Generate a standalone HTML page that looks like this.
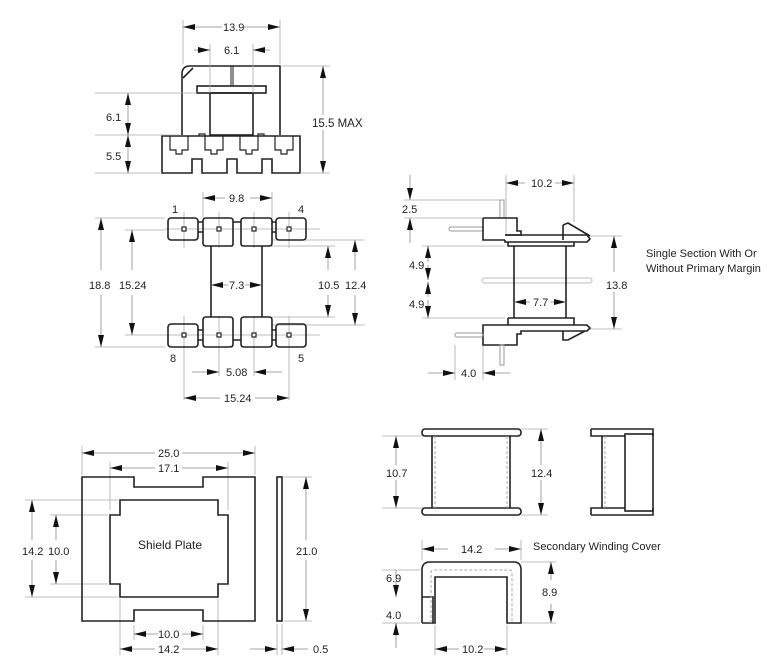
<!DOCTYPE html>
<html><head><meta charset="utf-8"><style>
html,body{margin:0;padding:0;background:#fff}
svg{display:block}
text{font-family:"Liberation Sans",sans-serif;font-size:11px;fill:#222}
.o{fill:none;stroke:#222;stroke-width:1.6}
.e{stroke:#aaa;stroke-width:0.8;fill:none}
.d{stroke:#888;stroke-width:0.8;fill:none}
.ds{stroke:#aaa;stroke-width:1;fill:none;stroke-dasharray:3,2}
</style></head><body>
<svg width="780" height="663" viewBox="0 0 780 663" xmlns="http://www.w3.org/2000/svg">
<defs>
<marker id="a" viewBox="0 0 12 6" refX="12" refY="3" markerWidth="12" markerHeight="6" orient="auto" markerUnits="userSpaceOnUse"><path d="M0,0L12,3L0,6z" fill="#111"/></marker>
</defs>
<g fill="#fff">
<!-- ===== Top view ===== -->
<path class="o" d="M182,135 V74 Q182,66 190,66 H280 V135"/>
<path class="o" d="M183,78 L193,68"/>
<rect class="o" x="197" y="86" width="69" height="7"/>
<rect class="o" x="210" y="93" width="43" height="42"/>
<path class="o" d="M231,66V86 M233,66V86" style="stroke-width:1"/>
<path class="o" d="M162,136 H300 V173 H272 V159 H262 V173 H237 V159 H227 V173 H202 V159 H192 V173 H162 Z"/>
<path class="o" style="stroke-width:1.2" d="M170,136v14h6v4h6v-4h6v-14 M199,136v-2h6v2 M205,136v14h6v4h6v-4h6v-14 M240,136v14h6v4h6v-4h6v-14 M258,136v-2h6v2 M275,136v14h6v4h6v-4h6v-14"/>
<path class="e" d="M183,20V64 M280,20V64 M210,44V93 M253,44V93 M282,66H330 M300,173H330 M95,93H197 M95,135H180 M95,173H160"/>
<line class="d" x1="232" y1="27" x2="183" y2="27" marker-end="url(#a)"/>
<line class="d" x1="232" y1="27" x2="280" y2="27" marker-end="url(#a)"/>
<rect x="222" y="20" width="22" height="13" stroke="none"/>
<text x="223" y="31">13.9</text>
<line class="d" x1="194" y1="50" x2="210" y2="50" marker-end="url(#a)"/>
<line class="d" x1="270" y1="50" x2="253" y2="50" marker-end="url(#a)"/>
<text x="224" y="54">6.1</text>
<line class="d" x1="323" y1="115" x2="323" y2="66" marker-end="url(#a)"/>
<line class="d" x1="323" y1="130" x2="323" y2="173" marker-end="url(#a)"/>
<text x="312" y="127" style="font-size:11.5px">15.5 MAX</text>
<line class="d" x1="128" y1="110" x2="128" y2="93" marker-end="url(#a)"/>
<line class="d" x1="128" y1="110" x2="128" y2="135" marker-end="url(#a)"/>
<line class="d" x1="128" y1="150" x2="128" y2="135" marker-end="url(#a)"/>
<line class="d" x1="128" y1="150" x2="128" y2="173" marker-end="url(#a)"/>
<text x="106" y="121">6.1</text>
<text x="106" y="160">5.5</text>

<!-- ===== Pin view ===== -->
<path class="e" d="M184,212V248 M219,212V248 M254,212V248 M289,212V248 M184,316V400 M219,316V376 M254,316V376 M289,316V400 M165,229H320 M165,335H320 M95,218H165 M125,230H165 M125,335H165 M95,347H165 M203,192V218 M272,192V218 M262,246H335 M272,240H365 M262,317H335 M272,325H365"/>
<rect class="o" x="168" y="218" width="30" height="22" rx="3"/>
<rect class="o" x="276" y="218" width="30" height="22" rx="3"/>
<path class="o" d="M198,222H203 M233,222H241 M272,222H276 M198,232H203 M272,232H276"/>
<path class="o" d="M203,221Q203,218 206,218H230Q233,218 233,221V244Q233,246 231,246H206Q203,246 203,243Z"/>
<path class="o" d="M241,221Q241,218 244,218H269Q272,218 272,221V243Q272,246 269,246H244Q241,246 241,244Z"/>
<rect class="o" x="168" y="324" width="30" height="23" rx="3"/>
<rect class="o" x="276" y="324" width="30" height="23" rx="3"/>
<path class="o" d="M203,320Q203,317 206,317H230Q233,317 233,320V344Q233,347 230,347H206Q203,347 203,344Z"/>
<path class="o" d="M241,320Q241,317 244,317H269Q272,317 272,320V344Q272,347 269,347H244Q241,347 241,344Z"/>
<path class="o" d="M198,340H203 M233,340H241 M272,340H276 M198,330H203 M272,330H276"/>
<path class="o" d="M211,246V317 M262,246V317"/>
<g stroke="#222" stroke-width="1.2"><rect x="182" y="227" width="4" height="4"/><rect x="217" y="227" width="4" height="4"/><rect x="252" y="227" width="4" height="4"/><rect x="287" y="227" width="4" height="4"/><rect x="182" y="333" width="4" height="4"/><rect x="217" y="333" width="4" height="4"/><rect x="252" y="333" width="4" height="4"/><rect x="287" y="333" width="4" height="4"/></g>
<text x="172" y="213">1</text><text x="298" y="213">4</text><text x="170" y="362">8</text><text x="298" y="362">5</text>
<line class="d" x1="225" y1="198" x2="203" y2="198" marker-end="url(#a)"/>
<line class="d" x1="250" y1="198" x2="272" y2="198" marker-end="url(#a)"/>
<text x="229" y="202">9.8</text>
<line class="d" x1="228" y1="285" x2="211" y2="285" marker-end="url(#a)"/>
<line class="d" x1="245" y1="285" x2="262" y2="285" marker-end="url(#a)"/>
<text x="229" y="289">7.3</text>
<line class="d" x1="101" y1="270" x2="101" y2="218" marker-end="url(#a)"/>
<line class="d" x1="101" y1="295" x2="101" y2="347" marker-end="url(#a)"/>
<text x="89" y="289">18.8</text>
<line class="d" x1="132" y1="270" x2="132" y2="230" marker-end="url(#a)"/>
<line class="d" x1="132" y1="295" x2="132" y2="335" marker-end="url(#a)"/>
<text x="119" y="289">15.24</text>
<line class="d" x1="328" y1="270" x2="328" y2="246" marker-end="url(#a)"/>
<line class="d" x1="328" y1="295" x2="328" y2="317" marker-end="url(#a)"/>
<text x="318" y="289">10.5</text>
<line class="d" x1="355" y1="270" x2="355" y2="240" marker-end="url(#a)"/>
<line class="d" x1="355" y1="295" x2="355" y2="325" marker-end="url(#a)"/>
<text x="345" y="289">12.4</text>
<line class="d" x1="192" y1="372" x2="219" y2="372" marker-end="url(#a)"/>
<line class="d" x1="282" y1="372" x2="254" y2="372" marker-end="url(#a)"/>
<text x="226" y="376">5.08</text>
<line class="d" x1="220" y1="398" x2="184" y2="398" marker-end="url(#a)"/>
<line class="d" x1="255" y1="398" x2="289" y2="398" marker-end="url(#a)"/>
<text x="224" y="402">15.24</text>

<!-- ===== Side view ===== -->
<path class="e" d="M506,175V235 M574,175V222 M404,200H500 M404,218H483 M422,246H505 M422,318H505 M590,236H622 M590,329H622 M455,345V380 M483,345V380"/>
<rect class="o" x="449" y="227" width="34" height="4" rx="2" style="stroke-width:1;stroke:#999"/>
<rect class="o" x="500" y="200" width="4" height="18" style="stroke-width:1;stroke:#999"/>
<path class="o" d="M483,218H517V231H521V235H505M483,218V240H505"/>
<path class="o" d="M505,235H587L590,239L587,242H505V240 M508,242V246H574V242"/>
<path class="o" d="M563,225V240 M563,225L568,223L590,236"/>
<rect x="482" y="278" width="110" height="5" rx="2.5" stroke="#bbb" stroke-width="1"/>
<path class="o" d="M514,246V318 M566,246V318"/>
<path class="o" d="M508,318V325 M508,318H574V325"/>
<path class="o" d="M483,325H587L590,328L587,331H521V334H517V345H483Z"/>
<path class="o" d="M563,331V340L568,340L585,331"/>
<rect class="o" x="455" y="333" width="28" height="4" rx="2" style="stroke-width:1;stroke:#999"/>
<rect class="o" x="500" y="345" width="4" height="20" style="stroke-width:1;stroke:#999"/>
<line class="d" x1="525" y1="183" x2="506" y2="183" marker-end="url(#a)"/>
<line class="d" x1="555" y1="183" x2="574" y2="183" marker-end="url(#a)"/>
<text x="531" y="187">10.2</text>
<line class="d" x1="410" y1="175" x2="410" y2="200" marker-end="url(#a)"/>
<line class="d" x1="410" y1="243" x2="410" y2="218" marker-end="url(#a)"/>
<text x="402" y="213">2.5</text>
<line class="d" x1="428" y1="262" x2="428" y2="246" marker-end="url(#a)"/>
<line class="d" x1="428" y1="265" x2="428" y2="280" marker-end="url(#a)"/>
<line class="d" x1="428" y1="297" x2="428" y2="282" marker-end="url(#a)"/>
<line class="d" x1="428" y1="300" x2="428" y2="318" marker-end="url(#a)"/>
<text x="409" y="269">4.9</text>
<text x="409" y="308">4.9</text>
<line class="d" x1="614" y1="272" x2="614" y2="236" marker-end="url(#a)"/>
<line class="d" x1="614" y1="292" x2="614" y2="329" marker-end="url(#a)"/>
<text x="606" y="289">13.8</text>
<line class="d" x1="530" y1="302" x2="514" y2="302" marker-end="url(#a)"/>
<line class="d" x1="550" y1="302" x2="566" y2="302" marker-end="url(#a)"/>
<text x="533" y="306">7.7</text>
<line class="d" x1="428" y1="373" x2="455" y2="373" marker-end="url(#a)"/>
<line class="d" x1="510" y1="373" x2="483" y2="373" marker-end="url(#a)"/>
<text x="461" y="377">4.0</text>
<text x="646" y="257">Single Section With Or</text>
<text x="646" y="272">Without Primary Margin</text>

<!-- ===== Bobbin front ===== -->
<path class="e" d="M382,436H430 M382,508H430 M521,429H548 M521,515H548"/>
<rect class="o" x="422" y="429" width="99" height="7" rx="3"/>
<rect class="o" x="422" y="508" width="99" height="7" rx="3"/>
<path class="o" d="M432,436V508 M510,436V508"/>
<path class="ds" d="M435,436V508 M507,436V508"/>
<line class="d" x1="396" y1="465" x2="396" y2="436" marker-end="url(#a)"/>
<line class="d" x1="396" y1="480" x2="396" y2="508" marker-end="url(#a)"/>
<text x="386" y="477">10.7</text>
<line class="d" x1="541" y1="465" x2="541" y2="429" marker-end="url(#a)"/>
<line class="d" x1="541" y1="480" x2="541" y2="515" marker-end="url(#a)"/>
<text x="531" y="477">12.4</text>
<path class="o" d="M591,429H653V436 M591,429V436H625 M591,515H653V508 M591,515V508H625 M602,436V508"/>
<rect class="o" x="625" y="434" width="28" height="77"/>
<path class="ds" d="M605,436V508"/>

<!-- ===== Cover ===== -->
<path class="e" d="M422,540V560 M521,540V560 M521,562H556 M521,623H556 M382,570H420 M382,623H420 M435,625V655 M507,625V655"/>
<path class="o" d="M422,623V570Q422,562 430,562H514Q521,562 521,570V623H507V577H435V623H422 M422,597H433V623"/>
<path class="ds" d="M431,623V573Q431,570 434,570H510Q512,570 512,573V623"/>
<line class="d" x1="448" y1="549" x2="422" y2="549" marker-end="url(#a)"/>
<line class="d" x1="495" y1="549" x2="521" y2="549" marker-end="url(#a)"/>
<text x="461" y="553">14.2</text>
<text x="533" y="550">Secondary Winding Cover</text>
<line class="d" x1="551" y1="580" x2="551" y2="562" marker-end="url(#a)"/>
<line class="d" x1="551" y1="604" x2="551" y2="623" marker-end="url(#a)"/>
<text x="542" y="596">8.9</text>
<line class="d" x1="396" y1="570" x2="396" y2="597" marker-end="url(#a)"/>
<line class="d" x1="396" y1="648" x2="396" y2="623" marker-end="url(#a)"/>
<text x="386" y="582">6.9</text>
<text x="386" y="619">4.0</text>
<line class="d" x1="459" y1="649" x2="435" y2="649" marker-end="url(#a)"/>
<line class="d" x1="484" y1="649" x2="507" y2="649" marker-end="url(#a)"/>
<text x="462" y="653">10.2</text>

<!-- ===== Shield plate ===== -->
<path class="e" d="M82,446V475 M255,446V475 M110,462V510 M228,462V510 M25,500H118 M50,515H108 M25,597H118 M50,584H108 M284,477H312 M284,621H312 M134,625V640 M203,625V640 M120,599V655 M218,599V655 M277,624V655 M282,624V655"/>
<path class="o" d="M82,477H134V487H203V477H255V621H203V610H134V621H82Z"/>
<path class="o" d="M120,500H218V515H228V584H218V597H120V584H110V515H120Z"/>
<rect class="o" x="277" y="477" width="5" height="144"/>
<text x="138" y="549" style="font-size:12px">Shield Plate</text>
<line class="d" x1="155" y1="453" x2="82" y2="453" marker-end="url(#a)"/>
<line class="d" x1="182" y1="453" x2="255" y2="453" marker-end="url(#a)"/>
<text x="158" y="457">25.0</text>
<line class="d" x1="155" y1="468" x2="110" y2="468" marker-end="url(#a)"/>
<line class="d" x1="182" y1="468" x2="228" y2="468" marker-end="url(#a)"/>
<text x="158" y="472">17.1</text>
<line class="d" x1="32" y1="540" x2="32" y2="500" marker-end="url(#a)"/>
<line class="d" x1="32" y1="560" x2="32" y2="597" marker-end="url(#a)"/>
<text x="22" y="555">14.2</text>
<line class="d" x1="56" y1="540" x2="56" y2="515" marker-end="url(#a)"/>
<line class="d" x1="56" y1="560" x2="56" y2="584" marker-end="url(#a)"/>
<text x="48" y="555">10.0</text>
<line class="d" x1="306" y1="540" x2="306" y2="477" marker-end="url(#a)"/>
<line class="d" x1="306" y1="560" x2="306" y2="621" marker-end="url(#a)"/>
<text x="296" y="555">21.0</text>
<line class="d" x1="158" y1="634" x2="134" y2="634" marker-end="url(#a)"/>
<line class="d" x1="182" y1="634" x2="203" y2="634" marker-end="url(#a)"/>
<text x="158" y="638">10.0</text>
<line class="d" x1="155" y1="649" x2="120" y2="649" marker-end="url(#a)"/>
<line class="d" x1="182" y1="649" x2="218" y2="649" marker-end="url(#a)"/>
<text x="158" y="653">14.2</text>
<line class="d" x1="250" y1="649" x2="277" y2="649" marker-end="url(#a)"/>
<line class="d" x1="308" y1="649" x2="282" y2="649" marker-end="url(#a)"/>
<text x="313" y="653">0.5</text>
</g>
</svg>
</body></html>
